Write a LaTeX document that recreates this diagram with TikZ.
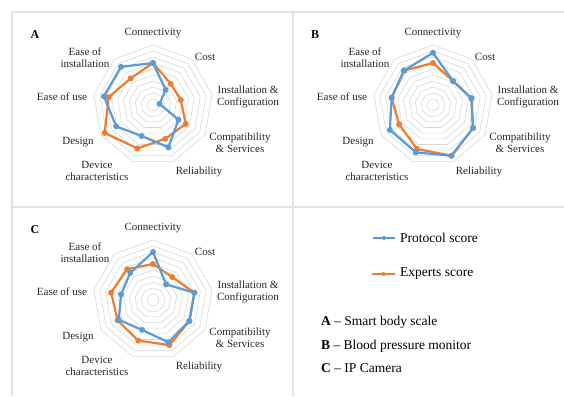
\documentclass[tikz,border=0pt]{standalone}
\usepackage{fontspec}
\setmainfont{Liberation Serif}
\usetikzlibrary{calc}
\definecolor{pblue}{HTML}{5B9BD5}
\definecolor{porange}{HTML}{ED7D31}
\definecolor{ringc}{HTML}{D6D6D6}
\definecolor{framec}{HTML}{E2E2E2}
\definecolor{labc}{HTML}{262626}
\tikzset{
  ring/.style={draw=ringc, line width=0.6pt},
  framel/.style={draw=framec, line width=1.2pt},
  axlab/.style={font=\fontsize{11}{12}\selectfont, text=labc, align=center, inner sep=0pt},
  panelletter/.style={font=\fontsize{12}{12}\selectfont\bfseries, inner sep=0pt},
  blueline/.style={draw=pblue, line width=2.2pt, line join=round},
  orangeline/.style={draw=porange, line width=2.2pt, line join=round},
  legtext/.style={font=\fontsize{13.5}{16}\selectfont, anchor=west, inner sep=0pt},
}
\newcommand{\myradar}[5]{%
\begin{scope}[shift={(#1,#2)}]
  \foreach \r in {1,...,10}{
    \draw[ring] (90:6*\r) \foreach \k in {1,...,8}{ -- (90-40*\k:6*\r)} -- cycle;
  }
  \node[panelletter] (#3letter) at (-118,70) {#3};
  \node[axlab] (#3l0) at (0,72) {Connectivity};
  \node[axlab] (#3l1) at (52,48) {Cost};
  \node[axlab] (#3l2) at (95,8) {Installation \&\\Configuration};
  \node[axlab] (#3l3) at (87,-37.5) {Compatibility\\\& Services};
  \node[axlab] (#3l4) at (46,-67) {Reliability};
  \node[axlab] (#3l5) at (-56,-66) {Device\\characteristics};
  \node[axlab] (#3l6) at (-75,-37) {Design};
  \node[axlab] (#3l7) at (-91,8) {Ease of use};
  \node[axlab] (#3l8) at (-68,47.5) {Ease of\\installation};
  \foreach \v [count=\k from 0] in {#4}{ \coordinate (#3b\k) at (90-40*\k:6*\v); }
  \foreach \v [count=\k from 0] in {#5}{ \coordinate (#3o\k) at (90-40*\k:6*\v); }
  \draw[orangeline] (#3o0) -- (#3o1) -- (#3o2) -- (#3o3) -- (#3o4) -- (#3o5) -- (#3o6) -- (#3o7) -- (#3o8) -- cycle;
  \foreach \k in {0,...,8}{ \fill[porange] (#3o\k) circle (3); }
  \draw[blueline] (#3b0) -- (#3b1) -- (#3b2) -- (#3b3) -- (#3b4) -- (#3b5) -- (#3b6) -- (#3b7) -- (#3b8) -- cycle;
  \foreach \k in {0,...,8}{ \fill[pblue] (#3b\k) circle (3); }
\end{scope}}
\begin{document}
\begin{tikzpicture}[x=1pt,y=1pt]
\useasboundingbox (0,0) rectangle (564,396);
% frame
\coordinate (ftl) at (12,384);
\coordinate (ftr) at (564,384);
\coordinate (fbl) at (12,0);
\coordinate (fmt) at (293,384);
\coordinate (fmb) at (293,0);
\coordinate (fml) at (12,189);
\coordinate (fmr) at (564,189);
\draw[framel] (ftl) -- (ftr);
\draw[framel] (ftl) -- (fbl);
\draw[framel] (fmt) -- (fmb);
\draw[framel] (fml) -- (fmr);
% panels
\myradar{153}{291}{A}{7,3.3,1.1,4.9,7.5,5.5,7.1,8.3,8.3}{7,4.6,4.7,6.3,6,7.7,9.3,7.5,5.8}
\myradar{433}{291}{B}{8.7,5.2,6.5,7.7,9,8.4,8.3,7,7.5}{7,5.2,6.5,7.7,9,7.8,6.5,7,7.5}
\myradar{153}{96}{C}{8,3.4,7,7,7.5,5.3,6.6,5.4,5.9}{6,5,7,7,8,7.2,6.8,7.1,6.7}
% legend
\coordinate (lb1) at (373,158);
\coordinate (lb2) at (395,158);
\coordinate (lbm) at ($(lb1)!0.5!(lb2)$);
\draw[draw=pblue, line width=1.4pt] (lb1) -- (lb2);
\fill[pblue] (lbm) circle (2);
\node[legtext] (lprot) at (400,158) {Protocol score};
\coordinate (lo1) at (372,122);
\coordinate (lo2) at (395,122);
\coordinate (lom) at ($(lo1)!0.5!(lo2)$);
\draw[draw=porange, line width=1.4pt] (lo1) -- (lo2);
\fill[porange] (lom) circle (2);
\node[legtext] (lexp) at (400,122) {Experts score};
\node[legtext] (kA) at (321,74) {\textbf{A} -- Smart body scale};
\node[legtext] (kB) at (321,50) {\textbf{B} -- Blood pressure monitor};
\node[legtext] (kC) at (321,28) {\textbf{C} -- IP Camera};
\end{tikzpicture}
\end{document}
